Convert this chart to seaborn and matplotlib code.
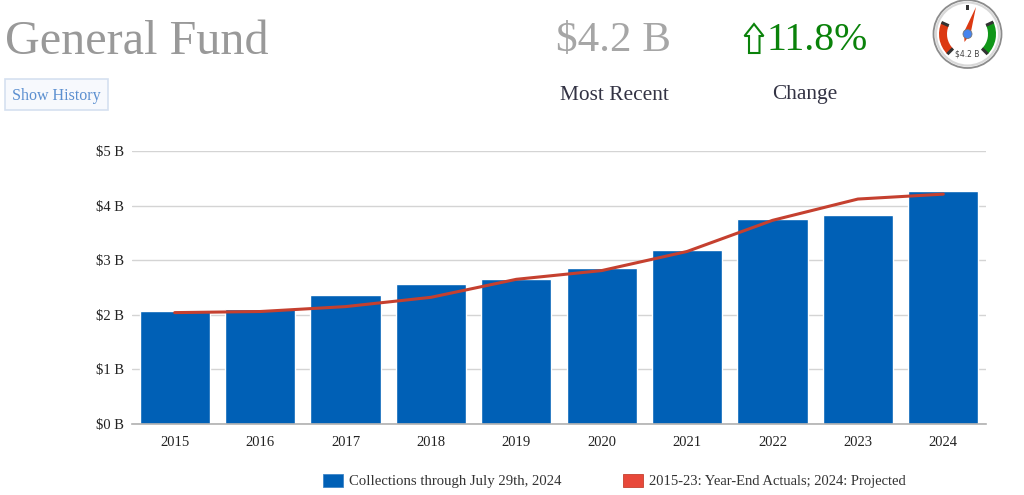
import numpy as np
import pandas as pd
import matplotlib
matplotlib.use('Agg')
import matplotlib.pyplot as plt
from matplotlib.patches import Circle, Rectangle, Wedge, Polygon
import seaborn as sns

years = ['2015', '2016', '2017', '2018', '2019', '2020', '2021', '2022', '2023', '2024']
collections = [2.07, 2.11, 2.36, 2.57, 2.66, 2.85, 3.19, 3.75, 3.82, 4.27]
year_end = [2.04, 2.06, 2.15, 2.32, 2.65, 2.81, 3.16, 3.73, 4.12, 4.21]
y_ticks = [0, 1, 2, 3, 4, 5]
y_labels = ['$0 B', '$1 B', '$2 B', '$3 B', '$4 B', '$5 B']

bar_label = 'Collections through July 29th, 2024'
line_label = '2015-23: Year-End Actuals; 2024: Projected'

sns.set_theme(style='white')
plt.rcParams['font.family'] = ['Liberation Serif', 'DejaVu Serif']

BLUE = '#0060b6'
RED = '#c5402f'
df = pd.DataFrame({'year': years, 'collections': collections, 'year_end': year_end})

fig = plt.figure(figsize=(10.24, 4.95), dpi=100)
W, H = 1024, 495

# main chart
ax = fig.add_axes([132/W, (H-424)/H, 854/W, 273/H])
sns.barplot(data=df, x='year', y='collections', color=BLUE, saturation=1, width=0.82, ax=ax, zorder=2)
sns.lineplot(data=df, x='year', y='year_end', color=RED, lw=2.2, ax=ax, zorder=3)
ax.set_xlim(-0.5, 9.5)
ax.set_ylim(0, 5)
ax.set_yticks(y_ticks)
ax.set_yticklabels(y_labels)
ax.set_xlabel('')
ax.set_ylabel('')
ax.grid(axis='y', color='#d4d4d4', lw=1)
ax.set_axisbelow(True)
ax.tick_params(axis='both', length=0, labelsize=10.5, labelcolor='#222222')
ax.tick_params(axis='x', pad=9)
ax.tick_params(axis='y', pad=6)
for s in ['top', 'left', 'right']:
    ax.spines[s].set_visible(False)
ax.spines['bottom'].set_color('#b0b0b0')
ax.spines['bottom'].set_linewidth(1.2)

# everything around the chart is placed in pixel coordinates
top = fig.add_axes([0, 0, 1, 1], facecolor='none')
top.set_xlim(0, W)
top.set_ylim(H, 0)
top.axis('off')

top.text(5, 42, 'General Fund', fontsize=34.7, color='#999999', va='center', ha='left')
top.text(614, 41, '$4.2 B', fontsize=31, color='#a6a6a6', va='center', ha='center')
top.text(614, 95, 'Most Recent', fontsize=15.4, color='#333344', va='center', ha='center')
top.text(805, 95, 'Change', fontsize=15.4, color='#333344', va='center', ha='center')
top.text(868, 41, '11.8%', fontsize=28.6, color='#0a820a', va='center', ha='right')

# hollow up arrow next to the change
top.add_patch(Polygon([(754, 24), (763.5, 36), (759.5, 36), (759.5, 53), (749, 53), (749, 36), (744.5, 36)],
                      closed=True, fill=False, ec='#0a820a', lw=1.5))

# show history button
top.add_patch(Rectangle((5, 79), 103, 31, fc='#f7f9fd', ec='#d5e0f0', lw=1.2))
top.text(56.5, 96, 'Show History', fontsize=11.5, color='#5b8fd0', va='center', ha='center')

# gauge, y runs downwards here so wedge angles are mirrored
cx, cy = 967.5, 34
top.add_patch(Circle((cx, cy), 34, fc='#f4f4f4', ec='#8c8c8c', lw=1.3))
top.add_patch(Circle((cx, cy), 31.5, fc='white', ec='#d8d8d8', lw=1.5))
top.add_patch(Wedge((cx, cy), 28.5, 135, 204, width=8, fc='#dc3912', ec='none'))
top.add_patch(Wedge((cx, cy), 28.5, -25, 45, width=8, fc='#109618', ec='none'))
for a in [135, 204, 45, -25]:
    t = np.deg2rad(a)
    top.plot([cx+20.5*np.cos(t), cx+28.5*np.cos(t)],
             [cy+20.5*np.sin(t), cy+28.5*np.sin(t)], color='#333333', lw=2.2, solid_capstyle='butt')
top.add_patch(Rectangle((cx-1.2, 5), 2.4, 5, fc='#333333', ec='none'))
top.add_patch(Polygon([(976, 7), (970.5, 34), (964.5, 42), (964, 32)], closed=True, fc='#dc3912', ec='none'))
top.add_patch(Circle((cx, cy), 4.5, fc='#4684ee', ec='#777777', lw=0.6))
top.text(cx, 54.5, '$4.2 B', fontsize=5.5, color='#444444', va='center', ha='center', family='DejaVu Sans')

# legend
top.add_patch(Rectangle((323, 474), 20, 13, fc=BLUE, ec='#3f86c8', lw=0.6))
top.text(349, 481, bar_label, fontsize=10.6, color='#333333', va='center', ha='left')
top.add_patch(Rectangle((623, 474), 20, 13, fc='#e8483a', ec='#c5402f', lw=0.6))
top.text(649, 481, line_label, fontsize=10.5, color='#333333', va='center', ha='left')

fig.savefig('out.png', dpi=100)
